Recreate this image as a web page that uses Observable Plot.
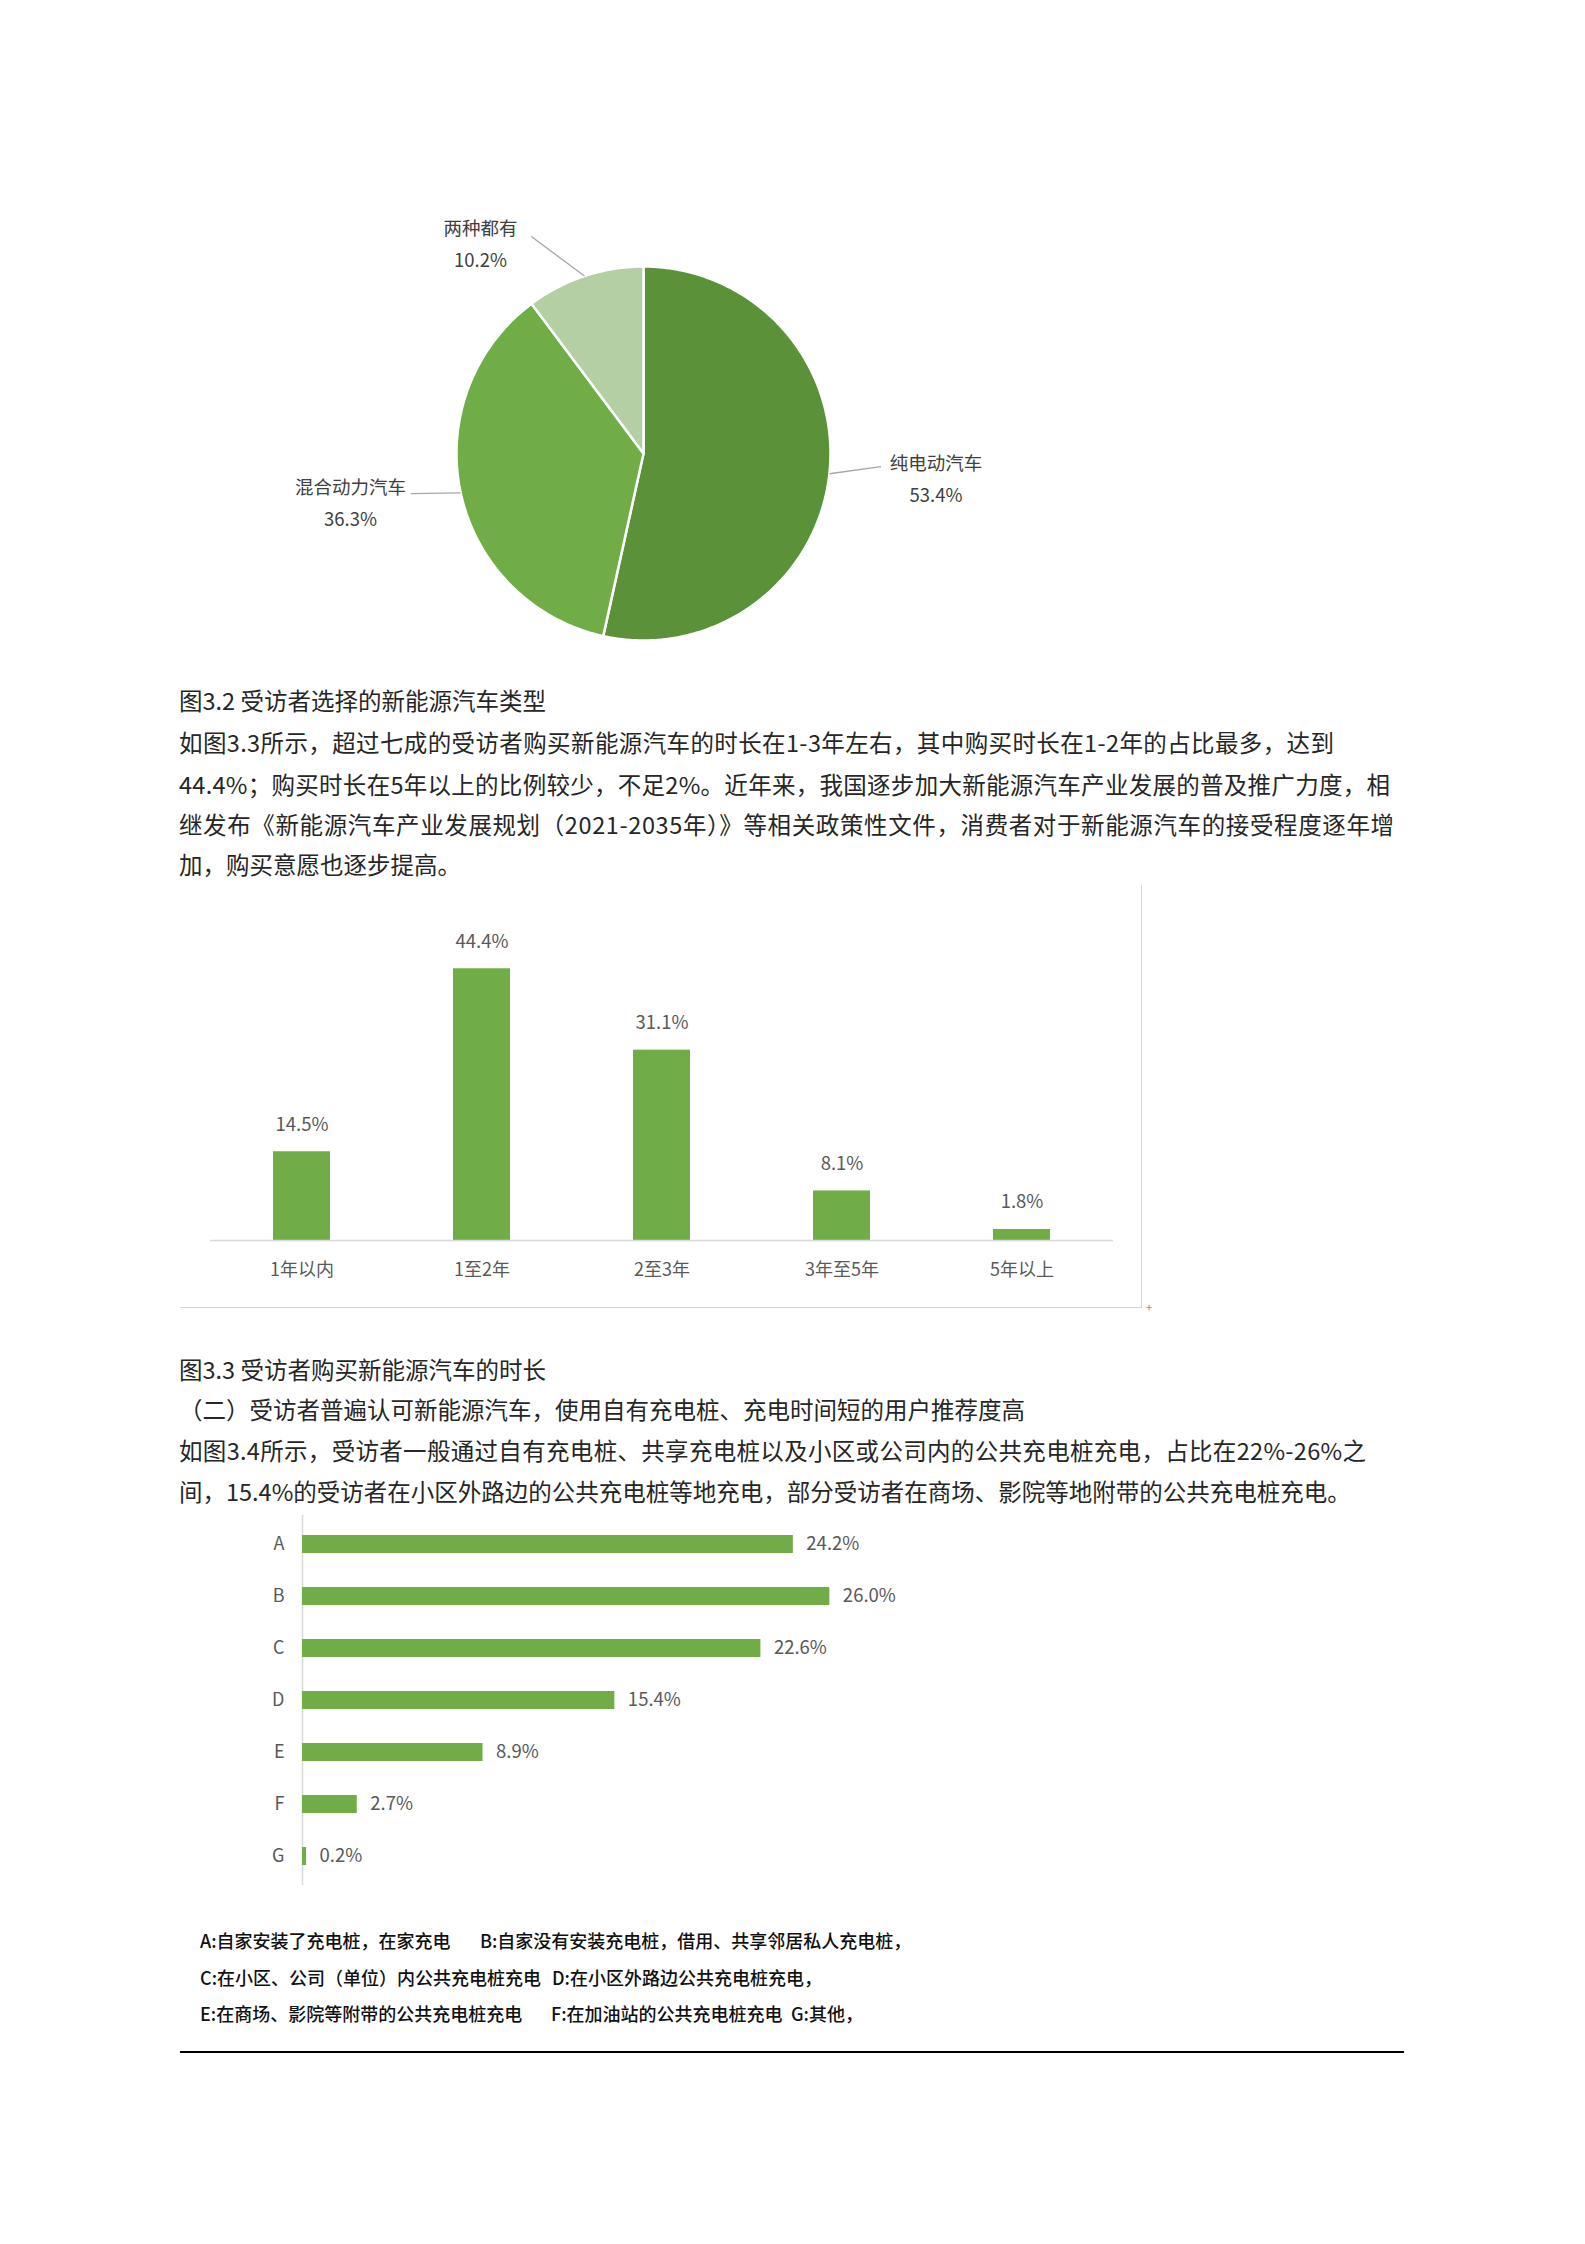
<!DOCTYPE html>
<html><head><meta charset="utf-8">
<script src="https://cdn.jsdelivr.net/npm/d3@7"></script>
<script src="https://cdn.jsdelivr.net/npm/@observablehq/plot@0.6"></script>
<style>
body{margin:0;background:#fff;}
#page{position:relative;width:1585px;height:2244px;overflow:hidden;font-family:"Noto Sans CJK SC","Noto Sans",sans-serif;color:#262626;}
.tl{position:absolute;left:179px;font-size:23.5px;line-height:30px;white-space:nowrap;}
.lg{position:absolute;font-size:18px;line-height:24px;white-space:nowrap;color:#111;font-weight:500;}
</style></head><body><div id="page"></div>
<script>
// ---------- data ----------
const pieNames = ["纯电动汽车", "混合动力汽车", "两种都有"];
const pieValues = [53.4, 36.3, 10.2];
const durationCats = ["1年以内", "1至2年", "2至3年", "3年至5年", "5年以上"];
const durationValues = [14.5, 44.4, 31.1, 8.1, 1.8];
const chargeCats = ["A", "B", "C", "D", "E", "F", "G"];
const chargeValues = [24.2, 26.0, 22.6, 15.4, 8.9, 2.7, 0.2];
const chargeNotes = [
  "A:自家安装了充电桩，在家充电", "B:自家没有安装充电桩，借用、共享邻居私人充电桩，",
  "C:在小区、公司（单位）内公共充电桩充电", "D:在小区外路边公共充电桩充电，",
  "E:在商场、影院等附带的公共充电桩充电", "F:在加油站的公共充电桩充电", "G:其他，"
];
const texts = {
  cap1: "图3.2 受访者选择的新能源汽车类型",
  p1: [
    "如图3.3所示，超过七成的受访者购买新能源汽车的时长在1-3年左右，其中购买时长在1-2年的占比最多，达到",
    "44.4%；购买时长在5年以上的比例较少，不足2%。近年来，我国逐步加大新能源汽车产业发展的普及推广力度，相",
    "继发布《新能源汽车产业发展规划（2021-2035年）》等相关政策性文件，消费者对于新能源汽车的接受程度逐年增",
    "加，购买意愿也逐步提高。"
  ],
  cap2: "图3.3 受访者购买新能源汽车的时长",
  head: "（二）受访者普遍认可新能源汽车，使用自有充电桩、充电时间短的用户推荐度高",
  p2: [
    "如图3.4所示，受访者一般通过自有充电桩、共享充电桩以及小区或公司内的公共充电桩充电，占比在22%-26%之",
    "间，15.4%的受访者在小区外路边的公共充电桩等地充电，部分受访者在商场、影院等地附带的公共充电桩充电。"
  ]
};

// ---------- layout helpers ----------
const page = document.getElementById("page");
function addText(str, cy, width) {
  const d = document.createElement("div");
  d.className = "tl";
  d.style.top = (cy - 15) + "px";
  d.textContent = str;
  page.appendChild(d);
  if (width) {
    const nat = d.getBoundingClientRect().width;
    const n = [...str].length;
    d.style.letterSpacing = ((width - nat) / (n - 1)) + "px";
  }
}
function place(el, left, top) {
  el.style.position = "absolute"; el.style.left = left + "px"; el.style.top = top + "px";
  page.appendChild(el);
}
const FONT = '"Noto Sans CJK SC","Noto Sans",sans-serif';
const GREEN = "#70ad47";

// ---------- pie (Figure 3.2) ----------
const arcs = d3.pie().sort(null).value(d => d)(pieValues);
const piePts = [];
arcs.forEach((a, i) => {
  const n = Math.max(4, Math.ceil((a.endAngle - a.startAngle) / (2 * Math.PI) * 360));
  piePts.push({name: pieNames[i], x: 0, y: 0});
  for (let k = 0; k <= n; k++) {
    const t = a.startAngle + (a.endAngle - a.startAngle) * k / n;
    piePts.push({name: pieNames[i], x: Math.sin(t), y: Math.cos(t)});
  }
});
// label layout (in radius units relative to centre)
const leaderEnd = {"纯电动汽车": [1.27, -0.07], "混合动力汽车": [-1.245, -0.215], "两种都有": [-0.6, 1.16]};
const labelAt = {"纯电动汽车": [1.564, -0.12], "混合动力汽车": [-1.567, -0.248], "两种都有": [-0.872, 1.139]};
const pieLab = arcs.map((a, i) => {
  const m = (a.startAngle + a.endAngle) / 2;
  const nm = pieNames[i];
  return {name: nm, x1: Math.sin(m), y1: Math.cos(m), x2: leaderEnd[nm][0], y2: leaderEnd[nm][1],
          lx: labelAt[nm][0], ly: labelAt[nm][1], label: nm + "\n" + pieValues[i].toFixed(1) + "%"};
});
const R = 187, PW = 700, PH = 500;
const pie = Plot.plot({
  width: PW, height: PH, margin: 0,
  style: {fontFamily: FONT, background: "transparent"},
  x: {domain: [-PW / 2 / R, PW / 2 / R], axis: null},
  y: {domain: [-PH / 2 / R, PH / 2 / R], axis: null},
  color: {domain: pieNames, range: ["#5b9139", "#70ad47", "#b4cfa4"]},
  marks: [
    Plot.line(piePts, {x: "x", y: "y", z: "name", fill: "name", stroke: "white", strokeWidth: 2.5, curve: "linear-closed"}),
    Plot.link(pieLab, {x1: "x1", y1: "y1", x2: "x2", y2: "y2", stroke: "#a6a6a6", strokeWidth: 1.3}),
    Plot.text(pieLab, {x: "lx", y: "ly", text: "label", fontSize: 18.5, lineHeight: 1.75, fill: "#404040"})
  ]
});
place(pie, 643 - PW / 2, 453 - PH / 2);

// ---------- texts ----------
addText(texts.cap1, 700);
addText(texts.p1[0], 742, 1155);
addText(texts.p1[1], 784, 1211);
addText(texts.p1[2], 824, 1215);
addText(texts.p1[3], 864);
addText(texts.cap2, 1369);
addText(texts.head, 1409);
addText(texts.p2[0], 1450, 1187);
addText(texts.p2[1], 1491);

// ---------- column chart (Figure 3.3) ----------
const frame = document.createElement("div");
frame.style.cssText = "width:962px;height:423px;border-right:1.5px solid #d4d4d4;border-bottom:1.5px solid #d4d4d4;box-sizing:border-box;";
place(frame, 180, 885);
const plus = document.createElement("div");
plus.textContent = "+";
plus.style.cssText = "font-size:11px;color:#888;line-height:11px;";
place(plus, 1146, 1302);

const durData = durationCats.map((c, i) => ({cat: c, v: durationValues[i]}));
const col = Plot.plot({
  width: 960, height: 423,
  marginLeft: 28, marginRight: 29, marginTop: 49, marginBottom: 68,
  style: {fontFamily: FONT, color: "#595959", background: "transparent"},
  x: {domain: durationCats, paddingInner: 0.684, paddingOuter: 0.342, label: null},
  y: {domain: [0, 50], axis: null},
  marks: [
    Plot.barY(durData, {x: "cat", y: "v", fill: GREEN}),
    Plot.ruleY([0], {stroke: "#d9d9d9", strokeWidth: 1.5}),
    Plot.axisX({tickSize: 0, tickPadding: 23, fontSize: 18, label: null}),
    Plot.text(durData, {x: "cat", y: "v", text: d => d.v.toFixed(1) + "%", dy: -27, fontSize: 18.5, fill: "#595959"})
  ]
});
place(col, 182, 885);

// ---------- bar chart (Figure 3.4) ----------
const chData = chargeCats.map((c, i) => ({cat: c, v: chargeValues[i]}));
const bar = Plot.plot({
  width: 700, height: 400,
  marginLeft: 62, marginRight: 29.5, marginTop: 4.75, marginBottom: 25,
  style: {fontFamily: FONT, color: "#595959", background: "transparent"},
  x: {domain: [0, 30], axis: null},
  y: {domain: chargeCats, paddingInner: 0.66, paddingOuter: 0.33, label: null},
  marks: [
    Plot.ruleX([0], {stroke: "#d9d9d9", strokeWidth: 1.5}),
    Plot.barX(chData, {x: "v", y: "cat", fill: GREEN}),
    Plot.axisY({tickSize: 0, tickPadding: 18, fontSize: 18, label: null}),
    Plot.text(chData, {x: "v", y: "cat", text: d => d.v.toFixed(1) + "%", dx: 13, textAnchor: "start", fontSize: 18.5, fill: "#595959"})
  ]
});
place(bar, 240, 1510);

// legend notes
const notePos = [[200, 1940], [480, 1940], [200, 1977], [552, 1977], [200, 2013], [551, 2013], [791, 2013]];
chargeNotes.forEach((t, i) => {
  const d = document.createElement("div");
  d.className = "lg"; d.textContent = t;
  d.style.left = notePos[i][0] + "px"; d.style.top = (notePos[i][1] - 12) + "px";
  page.appendChild(d);
});

// bottom rule
const hr = document.createElement("div");
hr.style.cssText = "width:1224px;height:2px;background:#000;";
place(hr, 180, 2051);
</script>
</body></html>
